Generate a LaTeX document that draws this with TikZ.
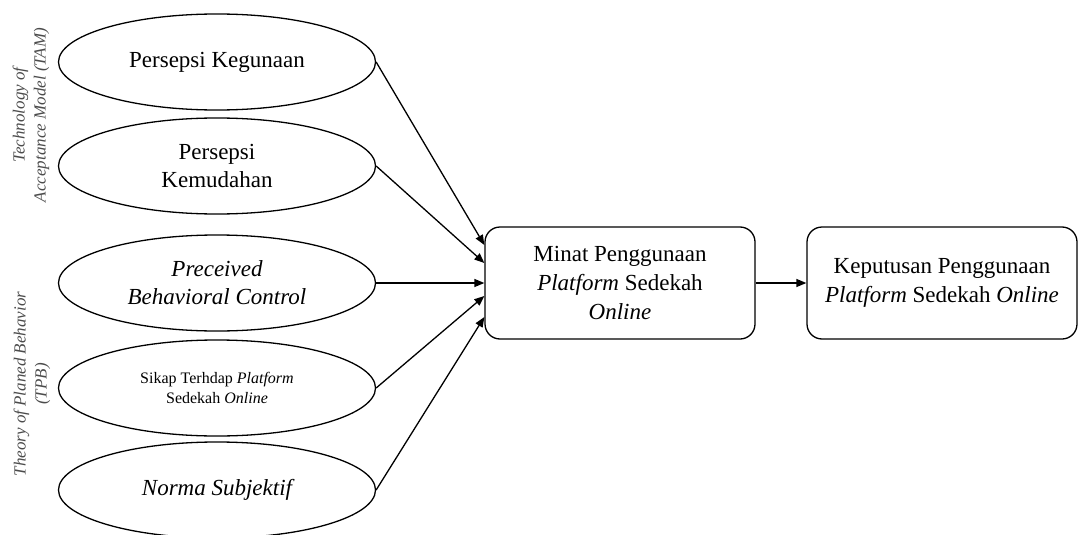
\documentclass[tikz,border=0pt]{standalone}
\usepackage{fontspec}
\setmainfont{Liberation Serif}
\usetikzlibrary{shapes.geometric, arrows.meta}

\begin{document}
\begin{tikzpicture}[x=1pt, y=-1pt,
  faktor/.style={ellipse, draw, line width=1.3pt, minimum width=317pt, minimum height=96pt,
    inner sep=0pt, align=center, font=\fontsize{23}{28}\selectfont},
  kotak/.style={rectangle, rounded corners=15pt, draw, line width=1.3pt, minimum width=270pt,
    minimum height=112pt, align=center, font=\fontsize{23}{29}\selectfont},
  teori/.style={rotate=90, align=center, text=black!70, font=\fontsize{17}{21}\selectfont\itshape},
  panah/.style={-{Triangle[length=10pt, width=8pt]}, line width=1.3pt}]

  % ukuran gambar
  \useasboundingbox (0, 0) rectangle (1081, 535);

  % variabel independen
  \node[faktor] (guna) at (217, 62) {Persepsi Kegunaan};
  \node[faktor] (mudah) at (217, 166) {Persepsi\\Kemudahan};
  \node[faktor, font=\fontsize{23}{28}\selectfont\itshape] (pbc) at (217, 283) {Preceived\\Behavioral Control};
  \node[faktor, font=\fontsize{16}{20}\selectfont] (sikap) at (217, 388) {Sikap Terhdap \textit{Platform}\\Sedekah \textit{Online}};
  \node[faktor, font=\fontsize{23}{28}\selectfont\itshape] (norma) at (217, 490) {Norma Subjektif};

  % label teori
  \node[teori] (tam) at (31, 115) {Technology of\\Acceptance Model (TAM)};
  \node[teori] (tpb) at (32, 384) {Theory of Planed Behavior\\(TPB)};

  % variabel intervening dan dependen
  \node[kotak] (minat) at (620, 283) {Minat Penggunaan\\\textit{Platform} Sedekah\\\textit{Online}};
  \node[kotak] (putus) at (942, 283) {Keputusan Penggunaan\\\textit{Platform} Sedekah \textit{Online}};

  % panah
  \draw[panah] (guna.east) -- ([yshift=38pt]minat.west);
  \draw[panah] (mudah.east) -- ([yshift=20pt]minat.west);
  \draw[panah] (pbc.east) -- (minat.west);
  \draw[panah] (sikap.east) -- ([yshift=-13pt]minat.west);
  \draw[panah] (norma.east) -- ([yshift=-34pt]minat.west);
  \draw[panah] (minat.east) -- (putus.west);

\end{tikzpicture}
\end{document}
